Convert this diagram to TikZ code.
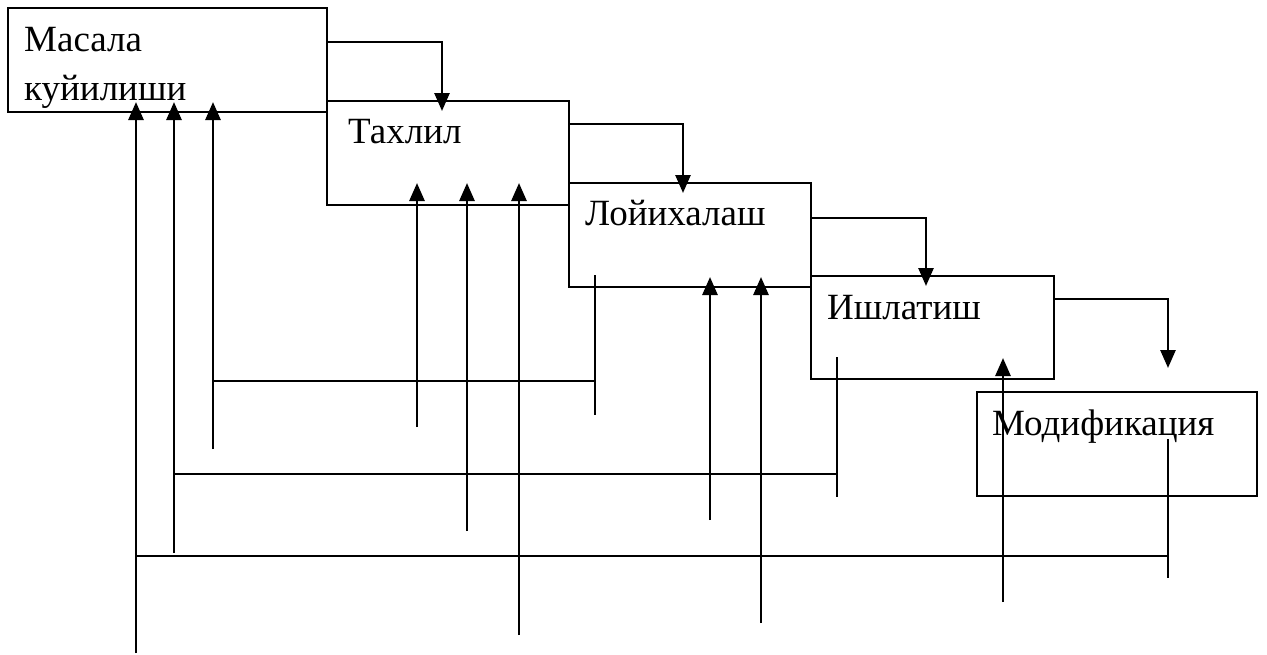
\documentclass[tikz,border=0pt]{standalone}
\usepackage{fontspec}
\setmainfont{Liberation Serif}
\usetikzlibrary{arrows.meta,calc}
\begin{document}
\begin{tikzpicture}[x=1pt,y=-1pt,
  box/.style={draw, line width=2.2pt, rectangle, inner sep=0pt, outer sep=0pt},
  lbl/.style={anchor=base west, inner sep=0pt, font=\fontsize{37}{49}\selectfont},
  fwd/.style={line width=2.6pt, -{Triangle[length=18pt,width=15pt]}},
  back/.style={line width=2.8pt, -{Triangle[length=18pt,width=15pt]}},
  thin/.style={line width=2pt}]
\useasboundingbox (0,0) rectangle (1267,654);

% stage boxes
\node[box, minimum width=319pt, minimum height=104pt] (b1) at (167.5,60) {};
\node[box, minimum width=242pt, minimum height=104pt] (b2) at (448,153) {};
\node[box, minimum width=242pt, minimum height=104pt] (b3) at (690,235) {};
\node[box, minimum width=243pt, minimum height=103pt] (b4) at (932.5,327.5) {};
\node[box, minimum width=280pt, minimum height=104pt] (b5) at (1117,444) {};

% stage names
\node[lbl] (t1a) at (24,51) {Масала};
\node[lbl] (t1b) at (24,100) {куйилиши};
\node[lbl] (t2) at (348,143) {Тахлил};
\node[lbl] (t3) at (585,225) {Лойихалаш};
\node[lbl] (t4) at (827,319) {Ишлатиш};
\node[lbl] (t5) at (992,435) {Модификация};

% forward flow between stages
\draw[fwd] (b1.east |- 0,42) -| ($(b2.north west)+(115,10)$);
\draw[fwd] (b2.east |- 0,124) -| ($(b3.north west)+(114,10)$);
\draw[fwd] (b3.east |- 0,218) -| ($(b4.north west)+(115,10)$);
\coordinate (m5) at ($(b5.north west)+(191,-24)$);
\draw[fwd] (b4.east |- 0,299) -| (m5);

% return from design to problem statement
\coordinate (r3) at ($(b3.south west)+(26,-12)$);
\draw[thin] (r3) -- (595,415);
\draw[thin] (595,381) -- (213,381);
\draw[back] (213,449) -- ($(b1.south west)+(205,-10)$);

% return from operation to problem statement
\coordinate (r4) at ($(b4.south west)+(26,-22)$);
\draw[thin] (r4) -- (837,497);
\draw[thin] (837,474) -- (174,474);
\draw[back] (174,553) -- ($(b1.south west)+(166,-10)$);

% return from modification to problem statement
\coordinate (r5) at ($(b5.south west)+(191,-57)$);
\draw[thin] (r5) -- (1168,578);
\draw[thin] (1168,556) -- (136,556);
\draw[back] (136,653) -- ($(b1.south west)+(128,-10)$);

% inputs into analysis
\draw[back] (417,427) -- ($(b2.south west)+(90,-22)$);
\draw[back] (467,531) -- ($(b2.south west)+(140,-22)$);
\draw[back] (519,635) -- ($(b2.south west)+(192,-22)$);

% inputs into design
\draw[back] (710,520) -- ($(b3.south west)+(141,-10)$);
\draw[back] (761,623) -- ($(b3.south west)+(192,-10)$);

% input into operation
\draw[back] (1003,602) -- ($(b4.south west)+(192,-21)$);
\end{tikzpicture}
\end{document}
